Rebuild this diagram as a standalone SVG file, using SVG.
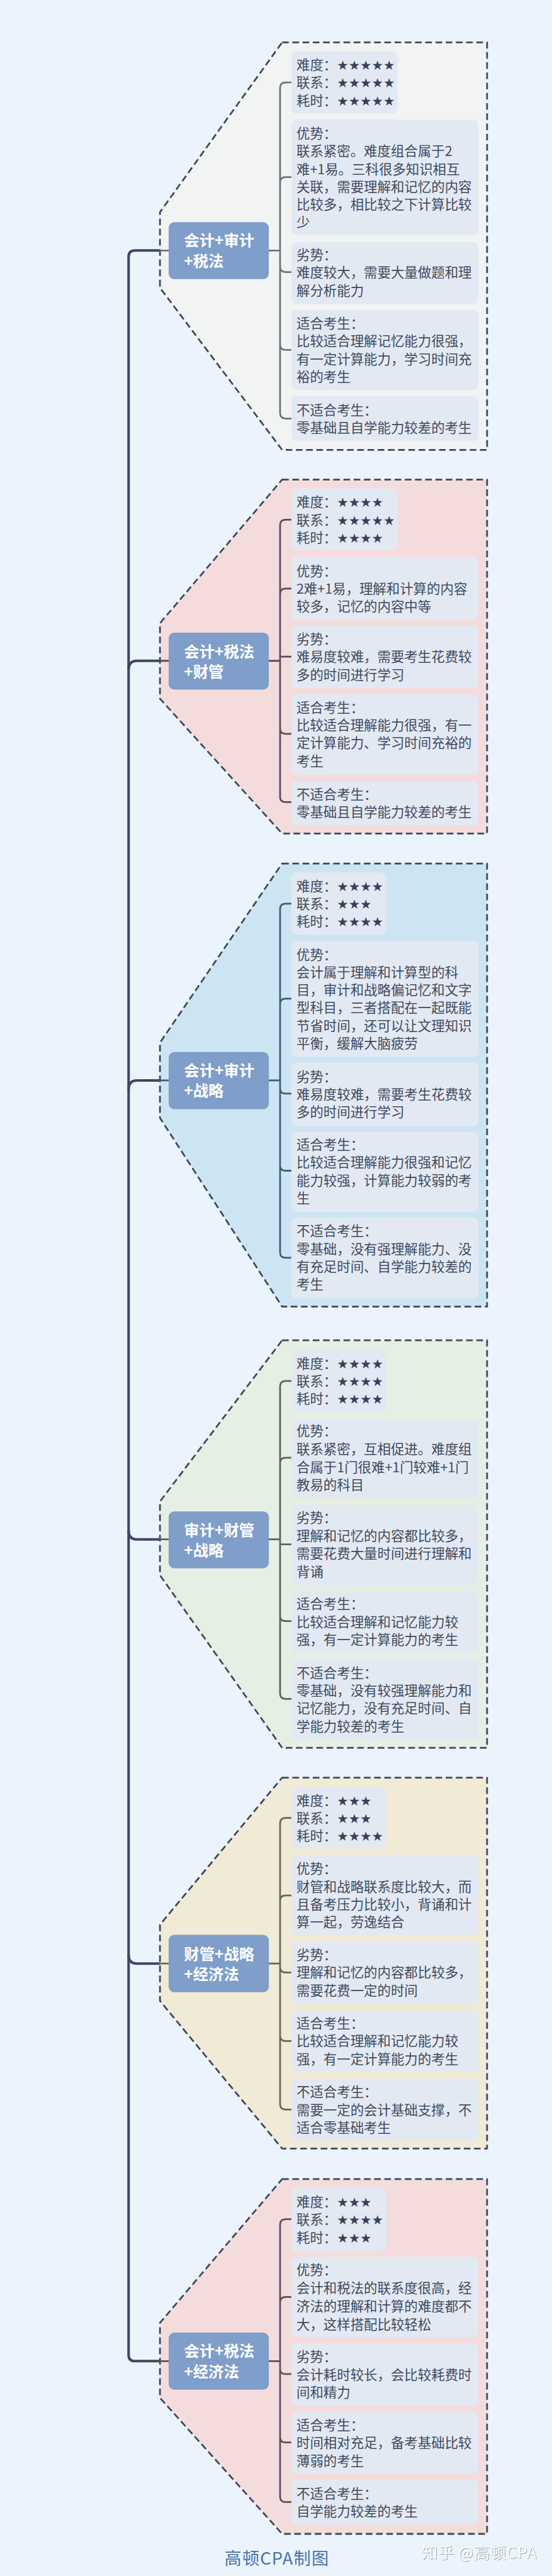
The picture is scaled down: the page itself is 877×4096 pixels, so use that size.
<svg xmlns="http://www.w3.org/2000/svg" width="877" height="4096" viewBox="0 0 877 4096">
<style>
text{font-family:"Noto Sans CJK SC","Noto Sans",sans-serif}
.t{font-size:26.4px;fill:#3f4b5e}
.s{font-family:"DejaVu Sans",sans-serif;font-size:25.3px;fill:#35425a}
.n{font-size:30px;font-weight:700;fill:#fff}
.nb{fill:#7f9ec9}
.l{fill:#e3e9f3}
.b{stroke:#3d4859;stroke-width:3.4;stroke-dasharray:13 7;stroke-linejoin:round}
.c{fill:none;stroke-width:3.4;stroke-linecap:round}
.tr{fill:none;stroke:#3a4860;stroke-width:5}
.c1{stroke:#6a737f}.c2{stroke:#5d4a5c}.c3{stroke:#3f5d7b}.c4{stroke:#55655f}.c5{stroke:#6b6558}.c6{stroke:#5f4c5e}
</style>
<defs>
<filter id="sh" x="-5%" y="-20%" width="110%" height="140%"><feDropShadow dx="1" dy="1" stdDeviation="0.6" flood-color="#8a8f96"/></filter>
</defs>
<rect width="877" height="4096" fill="#ebf3fd"/>
<g transform="scale(0.81204,0.81189)">
<g id="regions">
<path id="region1" class="b" fill="#f1f4f3" d="M552,83H953V881H552L313,563.6V415.5Z"/>
<path id="region2" class="b" fill="#f4dcdd" d="M552,939.4H953V1632.6H552L313,1368.4V1220.5Z"/>
<path id="region3" class="b" fill="#cde5f2" d="M552,1691.2H953V2559H552L313,2189.5V2042Z"/>
<path id="region4" class="b" fill="#e6efe3" d="M552,2625H953V3423H552L313,3085V2940.6Z"/>
<path id="region5" class="b" fill="#f0ead6" d="M552,3481.4H953V4207.8H552L313,3918.7V3769.5Z"/>
<path id="region6" class="b" fill="#f4dcdd" d="M552,4267.7H953V4962.5H552L313,4696.2V4549.2Z"/>
</g>
<g id="connectors">
<path class="tr" d="M313,490.6H264Q251.6,490.6 251.6,503V4612Q251.6,4624.2 264,4624.2H313"/>
<path class="tr" d="M251.6,1312Q251.6,1294.2 268,1294.2H313M251.6,2134Q251.6,2116 268,2116H313M251.6,2998Q251.6,3014.8 268,3014.8H313M251.6,3829Q251.6,3845.6 268,3845.6H313"/>
<g class="c c1"><path d="M313,490.6H330M525.5,490.6H548M548,490.6V172Q548,161.5 559,161.5H570M548,490.6V357Q548,346.9 559,346.9H570M548,490.6V522Q548,532.8 559,532.8H570M548,490.6V675Q548,685.3 559,685.3H570M548,490.6V809Q548,819.7 559,819.7H570"/></g>
<g class="c c2"><path d="M313,1294.2H330M525.5,1294.2H548M548,1294.2V1028Q548,1017.9 559,1017.9H570M548,1294.2V1163Q548,1152.7 559,1152.7H570M548,1286H570M548,1294.2V1427Q548,1437.2 559,1437.2H570M548,1294.2V1561Q548,1571 559,1571H570"/></g>
<g class="c c3"><path d="M313,2116H330M525.5,2116H548M548,2116V1780Q548,1769.9 559,1769.9H570M548,2116V1966Q548,1955.9 559,1955.9H570M548,2116V2131Q548,2141.9 559,2141.9H570M548,2116V2283Q548,2292.8 559,2292.8H570M548,2116V2453Q548,2463.3 559,2463.3H570"/></g>
<g class="c c4"><path d="M313,3014.8H330M525.5,3014.8H548M548,3014.8V2715Q548,2704.5 559,2704.5H570M548,3014.8V2865Q548,2854.8 559,2854.8H570M548,3024.5H570M548,3014.8V3165Q548,3174.7 559,3174.7H570M548,3014.8V3317Q548,3327.4 559,3327.4H570"/></g>
<g class="c c5"><path d="M313,3845.6H330M525.5,3845.6H548M548,3845.6V3571Q548,3560.5 559,3560.5H570M548,3845.6V3722Q548,3712.2 559,3712.2H570M548,3845.6V3853Q548,3863 559,3863H570M548,3845.6V3987Q548,3997.3 559,3997.3H570M548,3845.6V4121Q548,4131.6 559,4131.6H570"/></g>
<g class="c c6"><path d="M313,4624.2H330M525.5,4624.2H548M548,4624.2V4357Q548,4346.3 559,4346.3H570M548,4624.2V4509Q548,4498.5 559,4498.5H570M548,4624.2V4640Q548,4649.6 559,4649.6H570M548,4624.2V4773Q548,4783.5 559,4783.5H570M548,4624.2V4890Q548,4900.1 559,4900.1H570"/></g>
</g>

<g id="node1"><rect class="nb" x="330" y="435.2" width="196" height="111.4" rx="11"/><text class="n"><tspan x="360" y="482">会计+审计</tspan><tspan x="360" y="522">+税法</tspan></text></g>
<g id="n1a"><rect class="l" x="570" y="101" width="208" height="121.4" rx="10"/><text class="t"><tspan x="580" y="137">难度：<tspan class="s">★★★★★</tspan></tspan><tspan x="580" y="171.8">联系：<tspan class="s">★★★★★</tspan></tspan><tspan x="580" y="206.6">耗时：<tspan class="s">★★★★★</tspan></tspan></text></g>
<g id="n1b"><rect class="l" x="570" y="234.4" width="366" height="226" rx="10"/><text class="t"><tspan x="580" y="271.3">优势：</tspan><tspan x="580" y="306">联系紧密。难度组合属于2</tspan><tspan x="580" y="340.8">难+1易。三科很多知识相互</tspan><tspan x="580" y="375.6">关联，需要理解和记忆的内容</tspan><tspan x="580" y="410.4">比较多，相比较之下计算比较</tspan><tspan x="580" y="445.2">少</tspan></text></g>
<g id="n1c"><rect class="l" x="570" y="474.1" width="366" height="121.3" rx="10"/><text class="t"><tspan x="580" y="508.8">劣势：</tspan><tspan x="580" y="543.7">难度较大，需要大量做题和理</tspan><tspan x="580" y="578.6">解分析能力</tspan></text></g>
<g id="n1d"><rect class="l" x="570" y="606.9" width="366" height="156.9" rx="10"/><text class="t"><tspan x="580" y="643.2">适合考生：</tspan><tspan x="580" y="678">比较适合理解记忆能力很强，</tspan><tspan x="580" y="712.9">有一定计算能力，学习时间充</tspan><tspan x="580" y="748">裕的考生</tspan></text></g>
<g id="n1e"><rect class="l" x="570" y="775.8" width="366" height="87.8" rx="10"/><text class="t"><tspan x="580" y="812.7">不适合考生：</tspan><tspan x="580" y="847.4">零基础且自学能力较差的考生</tspan></text></g>

<g id="node2"><rect class="nb" x="330" y="1239" width="196" height="111.4" rx="11"/><text class="n"><tspan x="360" y="1287">会计+税法</tspan><tspan x="360" y="1326.5">+财管</tspan></text></g>
<g id="n2a"><rect class="l" x="570" y="956.4" width="208" height="121.1" rx="10"/><text class="t"><tspan x="580" y="993">难度：<tspan class="s">★★★★</tspan></tspan><tspan x="580" y="1027.9">联系：<tspan class="s">★★★★★</tspan></tspan><tspan x="580" y="1062.8">耗时：<tspan class="s">★★★★</tspan></tspan></text></g>
<g id="n2b"><rect class="l" x="570" y="1090.6" width="366" height="122.7" rx="10"/><text class="t"><tspan x="580" y="1127.8">优势：</tspan><tspan x="580" y="1162.7">2难+1易，理解和计算的内容</tspan><tspan x="580" y="1197.6">较多，记忆的内容中等</tspan></text></g>
<g id="n2c"><rect class="l" x="570" y="1225.4" width="366" height="122.1" rx="10"/><text class="t"><tspan x="580" y="1261.1">劣势：</tspan><tspan x="580" y="1296">难易度较难，需要考生花费较</tspan><tspan x="580" y="1330.9">多的时间进行学习</tspan></text></g>
<g id="n2d"><rect class="l" x="570" y="1359.7" width="366" height="157.5" rx="10"/><text class="t"><tspan x="580" y="1395.3">适合考生：</tspan><tspan x="580" y="1430.2">比较适合理解能力很强，有一</tspan><tspan x="580" y="1465.1">定计算能力、学习时间充裕的</tspan><tspan x="580" y="1500">考生</tspan></text></g>
<g id="n2e"><rect class="l" x="570" y="1529.8" width="366" height="85.8" rx="10"/><text class="t"><tspan x="580" y="1565">不适合考生：</tspan><tspan x="580" y="1599.6">零基础且自学能力较差的考生</tspan></text></g>

<g id="node3"><rect class="nb" x="330" y="2060.4" width="196" height="111.9" rx="11"/><text class="n"><tspan x="360" y="2108">会计+审计</tspan><tspan x="360" y="2147">+战略</tspan></text></g>
<g id="n3a"><rect class="l" x="570" y="1709" width="186" height="121.7" rx="10"/><text class="t"><tspan x="580" y="1744.9">难度：<tspan class="s">★★★★</tspan></tspan><tspan x="580" y="1779.9">联系：<tspan class="s">★★★</tspan></tspan><tspan x="580" y="1814.9">耗时：<tspan class="s">★★★★</tspan></tspan></text></g>
<g id="n3b"><rect class="l" x="570" y="1842.2" width="366" height="226.8" rx="10"/><text class="t"><tspan x="580" y="1879.8">优势：</tspan><tspan x="580" y="1914.4">会计属于理解和计算型的科</tspan><tspan x="580" y="1949">目，审计和战略偏记忆和文字</tspan><tspan x="580" y="1983.6">型科目，三者搭配在一起既能</tspan><tspan x="580" y="2018.4">节省时间，还可以让文理知识</tspan><tspan x="580" y="2053.1">平衡，缓解大脑疲劳</tspan></text></g>
<g id="n3c"><rect class="l" x="570" y="2081" width="366" height="124" rx="10"/><text class="t"><tspan x="580" y="2118">劣势：</tspan><tspan x="580" y="2152.6">难易度较难，需要考生花费较</tspan><tspan x="580" y="2187.5">多的时间进行学习</tspan></text></g>
<g id="n3d"><rect class="l" x="570" y="2216.5" width="366" height="156.7" rx="10"/><text class="t"><tspan x="580" y="2251.2">适合考生：</tspan><tspan x="580" y="2286.5">比较适合理解能力很强和记忆</tspan><tspan x="580" y="2321.2">能力较强，计算能力较弱的考</tspan><tspan x="580" y="2356.2">生</tspan></text></g>
<g id="n3e"><rect class="l" x="570" y="2384.7" width="366" height="157.9" rx="10"/><text class="t"><tspan x="580" y="2420.5">不适合考生：</tspan><tspan x="580" y="2455.8">零基础，没有强理解能力、没</tspan><tspan x="580" y="2491">有充足时间、自学能力较差的</tspan><tspan x="580" y="2525.6">考生</tspan></text></g>

<g id="node4"><rect class="nb" x="330" y="2960" width="196" height="111.5" rx="11"/><text class="n"><tspan x="360" y="3007.5">审计+财管</tspan><tspan x="360" y="3047">+战略</tspan></text></g>
<g id="n4a"><rect class="l" x="570" y="2644" width="186" height="121" rx="10"/><text class="t"><tspan x="580" y="2680">难度：<tspan class="s">★★★★</tspan></tspan><tspan x="580" y="2714.8">联系：<tspan class="s">★★★★</tspan></tspan><tspan x="580" y="2749.6">耗时：<tspan class="s">★★★★</tspan></tspan></text></g>
<g id="n4b"><rect class="l" x="570" y="2779.7" width="366" height="154.1" rx="10"/><text class="t"><tspan x="580" y="2812.5">优势：</tspan><tspan x="580" y="2847.6">联系紧密，互相促进。难度组</tspan><tspan x="580" y="2883">合属于1门很难+1门较难+1门</tspan><tspan x="580" y="2918">教易的科目</tspan></text></g>
<g id="n4c"><rect class="l" x="570" y="2946.9" width="366" height="157.5" rx="10"/><text class="t"><tspan x="580" y="2982.1">劣势：</tspan><tspan x="580" y="3017.4">理解和记忆的内容都比较多，</tspan><tspan x="580" y="3052.7">需要花费大量时间进行理解和</tspan><tspan x="580" y="3087.8">背诵</tspan></text></g>
<g id="n4d"><rect class="l" x="570" y="3116.6" width="366" height="121.1" rx="10"/><text class="t"><tspan x="580" y="3150.8">适合考生：</tspan><tspan x="580" y="3186">比较适合理解和记忆能力较</tspan><tspan x="580" y="3221">强，有一定计算能力的考生</tspan></text></g>
<g id="n4e"><rect class="l" x="570" y="3249.9" width="366" height="156.5" rx="10"/><text class="t"><tspan x="580" y="3285.6">不适合考生：</tspan><tspan x="580" y="3320.5">零基础，没有较强理解能力和</tspan><tspan x="580" y="3355.4">记忆能力，没有充足时间、自</tspan><tspan x="580" y="3390.3">学能力较差的考生</tspan></text></g>

<g id="node5"><rect class="nb" x="330" y="3789.4" width="196" height="112.4" rx="11"/><text class="n"><tspan x="360" y="3838">财管+战略</tspan><tspan x="360" y="3877">+经济法</tspan></text></g>
<g id="n5a"><rect class="l" x="570" y="3500.8" width="186" height="119.4" rx="10"/><text class="t"><tspan x="580" y="3535.7">难度：<tspan class="s">★★★</tspan></tspan><tspan x="580" y="3570.5">联系：<tspan class="s">★★★</tspan></tspan><tspan x="580" y="3605.3">耗时：<tspan class="s">★★★★</tspan></tspan></text></g>
<g id="n5b"><rect class="l" x="570" y="3633.1" width="366" height="156.3" rx="10"/><text class="t"><tspan x="580" y="3669">优势：</tspan><tspan x="580" y="3704.6">财管和战略联系度比较大，而</tspan><tspan x="580" y="3739.7">且备考压力比较小，背诵和计</tspan><tspan x="580" y="3774.5">算一起，劳逸结合</tspan></text></g>
<g id="n5c"><rect class="l" x="570" y="3802.3" width="366" height="122.9" rx="10"/><text class="t"><tspan x="580" y="3838.2">劣势：</tspan><tspan x="580" y="3873">理解和记忆的内容都比较多，</tspan><tspan x="580" y="3907.8">需要花费一定的时间</tspan></text></g>
<g id="n5d"><rect class="l" x="570" y="3938.6" width="366" height="118.4" rx="10"/><text class="t"><tspan x="580" y="3972.5">适合考生：</tspan><tspan x="580" y="4007.3">比较适合理解和记忆能力较</tspan><tspan x="580" y="4042.1">强，有一定计算能力的考生</tspan></text></g>
<g id="n5e"><rect class="l" x="570" y="4070.9" width="366" height="121.4" rx="10"/><text class="t"><tspan x="580" y="4106.8">不适合考生：</tspan><tspan x="580" y="4141.6">需要一定的会计基础支撑，不</tspan><tspan x="580" y="4176.5">适合零基础考生</tspan></text></g>

<g id="node6"><rect class="nb" x="330" y="4568.5" width="196" height="111.5" rx="11"/><text class="n"><tspan x="360" y="4615">会计+税法</tspan><tspan x="360" y="4655.5">+经济法</tspan></text></g>
<g id="n6a"><rect class="l" x="570" y="4285.5" width="186" height="123.2" rx="10"/><text class="t"><tspan x="580" y="4322.4">难度：<tspan class="s">★★★</tspan></tspan><tspan x="580" y="4356.9">联系：<tspan class="s">★★★★</tspan></tspan><tspan x="580" y="4391.8">耗时：<tspan class="s">★★★</tspan></tspan></text></g>
<g id="n6b"><rect class="l" x="570" y="4419.9" width="366" height="157.1" rx="10"/><text class="t"><tspan x="580" y="4455.2">优势：</tspan><tspan x="580" y="4490.7">会计和税法的联系度很高，经</tspan><tspan x="580" y="4526.2">济法的理解和计算的难度都不</tspan><tspan x="580" y="4561.7">大，这样搭配比较轻松</tspan></text></g>
<g id="n6c"><rect class="l" x="570" y="4589.8" width="366" height="121.7" rx="10"/><text class="t"><tspan x="580" y="4625.1">劣势：</tspan><tspan x="580" y="4660.6">会计耗时较长，会比较耗费时</tspan><tspan x="580" y="4695.1">间和精力</tspan></text></g>
<g id="n6d"><rect class="l" x="570" y="4724.1" width="366" height="120.2" rx="10"/><text class="t"><tspan x="580" y="4759.5">适合考生：</tspan><tspan x="580" y="4794">时间相对充足，备考基础比较</tspan><tspan x="580" y="4829">薄弱的考生</tspan></text></g>
<g id="n6e"><rect class="l" x="570" y="4857" width="366" height="87.7" rx="10"/><text class="t"><tspan x="580" y="4893.9">不适合考生：</tspan><tspan x="580" y="4928.4">自学能力较差的考生</tspan></text></g>

<text id="footer" x="439" y="5023" font-size="33.5" letter-spacing="1.5" fill="#4a72a6">高顿CPA制图</text>
<text id="mark" x="825" y="5011" font-size="31" letter-spacing="1" fill="#fcfdff" filter="url(#sh)">知乎 @高顿CPA</text>
</g>
</svg>
